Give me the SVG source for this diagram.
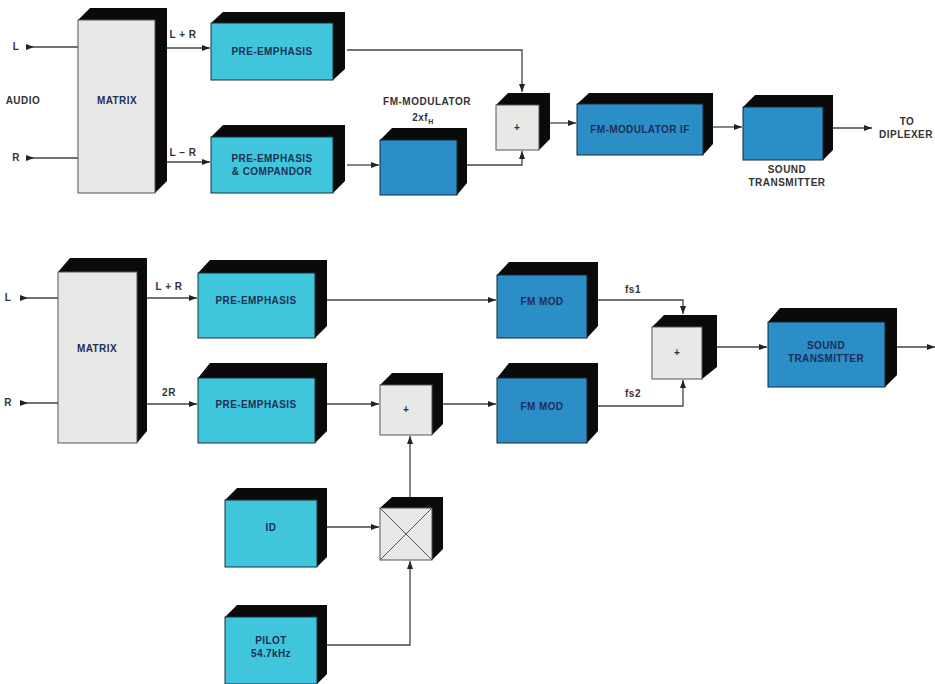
<svg xmlns="http://www.w3.org/2000/svg" width="935" height="684" viewBox="0 0 935 684">
<style>
.ext{fill:#0a0a0a}
.lt{fill:#3fc6dc;stroke:#16323c;stroke-width:1}
.dk{fill:#2b8ec6;stroke:#10283a;stroke-width:1}
.gr{fill:#e8e8e6;stroke:#555;stroke-width:1}
.bt{font-family:"Liberation Sans",Arial,sans-serif;font-weight:bold;font-size:10px;fill:#1d2f55;text-anchor:middle;letter-spacing:0.4px}
.lb{font-family:"Liberation Sans",Arial,sans-serif;font-weight:bold;font-size:10px;fill:#333;text-anchor:middle;letter-spacing:0.5px}
.ln{fill:none;stroke:#444;stroke-width:1.3}
</style>
<defs>
<marker id="ah" markerWidth="8" markerHeight="6" refX="8" refY="3" orient="auto" markerUnits="userSpaceOnUse">
<path d="M0,0 L8,3 L0,6 z" fill="#222"/>
</marker>
<marker id="as" markerWidth="8" markerHeight="6" refX="0" refY="3" orient="auto" markerUnits="userSpaceOnUse">
<path d="M0,0 L8,3 L0,6 z" fill="#222"/>
</marker>
</defs>
<rect width="935" height="684" fill="#fff"/>

<g id="connectors">
<line class="ln" x1="26" y1="47" x2="78" y2="47" marker-start="url(#as)"/>
<line class="ln" x1="26" y1="158" x2="78" y2="158" marker-start="url(#as)"/>
<line class="ln" x1="167" y1="48" x2="210" y2="48" marker-end="url(#ah)"/>
<line class="ln" x1="167" y1="162" x2="210" y2="162" marker-end="url(#ah)"/>
<polyline class="ln" points="347,50 522,50 522,92" marker-end="url(#ah)"/>
<line class="ln" x1="347" y1="165" x2="379" y2="165" marker-end="url(#ah)"/>
<polyline class="ln" points="467,165 522,165 522,151" marker-end="url(#ah)"/>
<line class="ln" x1="550" y1="123" x2="576" y2="123" marker-end="url(#ah)"/>
<line class="ln" x1="713" y1="127" x2="742" y2="127" marker-end="url(#ah)"/>
<line class="ln" x1="833" y1="128" x2="872" y2="128" marker-end="url(#ah)"/>
<line class="ln" x1="20" y1="298" x2="58" y2="298" marker-start="url(#as)"/>
<line class="ln" x1="20" y1="403" x2="58" y2="403" marker-start="url(#as)"/>
<line class="ln" x1="147" y1="298" x2="197" y2="298" marker-end="url(#ah)"/>
<line class="ln" x1="147" y1="404" x2="197" y2="404" marker-end="url(#ah)"/>
<line class="ln" x1="327" y1="300" x2="496" y2="300" marker-end="url(#ah)"/>
<line class="ln" x1="327" y1="404" x2="379" y2="404" marker-end="url(#ah)"/>
<line class="ln" x1="443" y1="404" x2="496" y2="404" marker-end="url(#ah)"/>
<polyline class="ln" points="598,300 683,300 683,314" marker-end="url(#ah)"/>
<polyline class="ln" points="598,406 683,406 683,380" marker-end="url(#ah)"/>
<line class="ln" x1="717" y1="347" x2="767" y2="347" marker-end="url(#ah)"/>
<line class="ln" x1="897" y1="347" x2="935" y2="347" marker-end="url(#ah)"/>
<line class="ln" x1="327" y1="527" x2="379" y2="527" marker-end="url(#ah)"/>
<polyline class="ln" points="327,645 410,645 410,561" marker-end="url(#ah)"/>
<line class="ln" x1="410" y1="497" x2="410" y2="436" marker-end="url(#ah)"/>
</g>

<g id="labels">
<text class="lb" x="23" y="104">AUDIO</text>
<text class="lb" x="16" y="50">L</text>
<text class="lb" x="16" y="161">R</text>
<text class="lb" x="183" y="38">L + R</text>
<text class="lb" x="183" y="156">L – R</text>
<text class="lb" x="427" y="105">FM-MODULATOR</text>
<text class="lb" x="423" y="121">2xf<tspan font-size="7" dy="3">H</tspan></text>
<text class="lb" x="787" y="173">SOUND</text>
<text class="lb" x="787" y="186">TRANSMITTER</text>
<text class="lb" x="907" y="125">TO</text>
<text class="lb" x="906" y="138">DIPLEXER</text>
<text class="lb" x="8" y="301">L</text>
<text class="lb" x="8" y="406">R</text>
<text class="lb" x="169" y="290">L + R</text>
<text class="lb" x="169" y="396">2R</text>
<text class="lb" x="633" y="293">fs1</text>
<text class="lb" x="633" y="397">fs2</text>
</g>

<g id="matrix1">
<polygon class="ext" points="78,20 90,8 167,8 167,181 155,193 155,20"/>
<rect class="gr" x="78" y="20" width="77" height="173"/>
<text class="bt" x="117" y="104">MATRIX</text>
</g>
<g id="preemph1">
<polygon class="ext" points="211,23 223,12 345,12 345,69 333,80 333,23"/>
<rect class="lt" x="211" y="23" width="122" height="57"/>
<text class="bt" x="272" y="55">PRE-EMPHASIS</text>
</g>
<g id="preemph_comp">
<polygon class="ext" points="211,137 223,125 345,125 345,181 333,193 333,137"/>
<rect class="lt" x="211" y="137" width="122" height="56"/>
<text class="bt" x="272" y="162">PRE-EMPHASIS</text>
<text class="bt" x="272" y="175">&amp; COMPANDOR</text>
</g>
<g id="fmmod2fh">
<polygon class="ext" points="380,140 392,128 467,128 467,183 457,195 457,140"/>
<rect class="dk" x="380" y="140" width="77" height="55"/>
</g>
<g id="sum1">
<polygon class="ext" points="496,105 508,93 550,93 550,139 539,150 539,105"/>
<rect class="gr" x="496" y="105" width="43" height="45"/>
<text class="bt" x="517" y="131" font-size="8">+</text>
</g>
<g id="fmmodif">
<polygon class="ext" points="577,104 589,93 713,93 713,144 703,155 703,104"/>
<rect class="dk" x="577" y="104" width="126" height="51"/>
<text class="bt" x="640" y="133">FM-MODULATOR IF</text>
</g>
<g id="soundtx1">
<polygon class="ext" points="743,107 755,95 833,95 833,150 823,160 823,107"/>
<rect class="dk" x="743" y="107" width="80" height="53"/>
</g>

<g id="matrix2">
<polygon class="ext" points="58,272 70,258 147,258 147,431 137,443 137,272"/>
<rect class="gr" x="58" y="272" width="79" height="171"/>
<text class="bt" x="97" y="352">MATRIX</text>
</g>
<g id="preemph2a">
<polygon class="ext" points="198,273 210,260 327,260 327,326 315,338 315,273"/>
<rect class="lt" x="198" y="273" width="117" height="65"/>
<text class="bt" x="256" y="304">PRE-EMPHASIS</text>
</g>
<g id="preemph2b">
<polygon class="ext" points="198,378 210,363 327,363 327,431 315,443 315,378"/>
<rect class="lt" x="198" y="378" width="117" height="65"/>
<text class="bt" x="256" y="408">PRE-EMPHASIS</text>
</g>
<g id="fmmod1">
<polygon class="ext" points="497,275 509,262 598,262 598,326 587,338 587,275"/>
<rect class="dk" x="497" y="275" width="90" height="63"/>
<text class="bt" x="542" y="305">FM MOD</text>
</g>
<g id="fmmod2">
<polygon class="ext" points="497,378 509,363 598,363 598,431 587,443 587,378"/>
<rect class="dk" x="497" y="378" width="90" height="65"/>
<text class="bt" x="542" y="410">FM MOD</text>
</g>
<g id="sum2">
<polygon class="ext" points="380,385 392,373 443,373 443,424 432,435 432,385"/>
<rect class="gr" x="380" y="385" width="52" height="50"/>
<text class="bt" x="406" y="413" font-size="8">+</text>
</g>
<g id="sum3">
<polygon class="ext" points="652,327 664,315 717,315 717,367 702,379 702,327"/>
<rect class="gr" x="652" y="327" width="50" height="52"/>
<text class="bt" x="677" y="356" font-size="9">+</text>
</g>
<g id="soundtx2">
<polygon class="ext" points="768,322 780,308 897,308 897,375 885,387 885,322"/>
<rect class="dk" x="768" y="322" width="117" height="65"/>
<text class="bt" x="826" y="349">SOUND</text>
<text class="bt" x="826" y="362">TRANSMITTER</text>
</g>
<g id="id">
<polygon class="ext" points="225,500 237,488 327,488 327,557 317,567 317,500"/>
<rect class="lt" x="225" y="500" width="92" height="67"/>
<text class="bt" x="271" y="531">ID</text>
</g>
<g id="mult">
<polygon class="ext" points="380,508 392,497 443,497 443,549 432,560 432,508"/>
<rect class="gr" x="380" y="508" width="52" height="52"/>
<line x1="380" y1="508" x2="432" y2="560" stroke="#555" stroke-width="1"/>
<line x1="432" y1="508" x2="380" y2="560" stroke="#555" stroke-width="1"/>
</g>
<g id="pilot">
<polygon class="ext" points="225,617 237,605 327,605 327,674 317,684 317,617"/>
<rect class="lt" x="225" y="617" width="92" height="67"/>
<text class="bt" x="271" y="644">PILOT</text>
<text class="bt" x="271" y="657">54.7kHz</text>
</g>
</svg>
